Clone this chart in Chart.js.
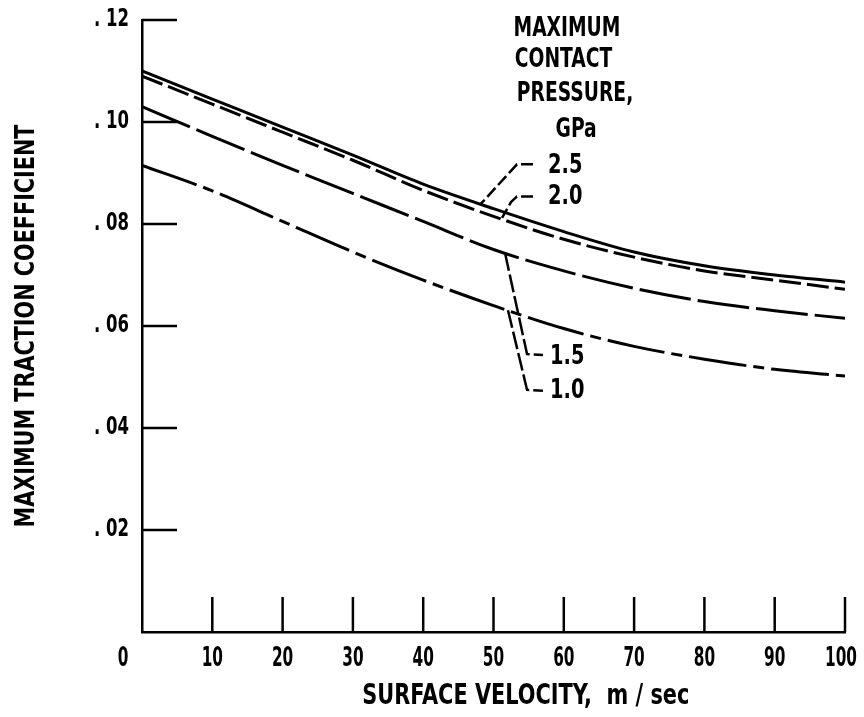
<!DOCTYPE html>
<html><head><meta charset="utf-8">
<script src="https://cdn.jsdelivr.net/npm/chart.js@4/dist/chart.umd.min.js"></script>
<style>html,body{margin:0;padding:0;background:#fff}</style>
</head><body>
<canvas id="c" width="864" height="717"></canvas>
<script>
// ---- data ----
const velocity = [0, 10, 20, 30, 40, 50, 60, 70, 80, 90, 100];
const p25 = [0.1100, 0.1045, 0.0990, 0.0935, 0.0878, 0.0830, 0.0785, 0.0745, 0.0718, 0.0700, 0.0686];
const p20 = [0.1090, 0.1035, 0.0980, 0.0925, 0.0866, 0.0815, 0.0770, 0.0735, 0.0708, 0.0690, 0.0672];
const p15 = [0.1030, 0.0972, 0.0915, 0.0860, 0.0805, 0.0750, 0.0708, 0.0674, 0.0648, 0.0630, 0.0615];
const p10 = [0.0915, 0.0865, 0.0805, 0.0745, 0.0690, 0.0640, 0.0595, 0.0560, 0.0535, 0.0515, 0.0502];
const seriesLabels = ['2.5', '2.0', '1.5', '1.0'];
const legendTitle = ['MAXIMUM', 'CONTACT', 'PRESSURE,', 'GPa'];
const xTicks = [0, 10, 20, 30, 40, 50, 60, 70, 80, 90, 100];
const xTickLabels = ['0', '10', '20', '30', '40', '50', '60', '70', '80', '90', '100'];
const yTicks = [0.02, 0.04, 0.06, 0.08, 0.10, 0.12];
const yTickLabels = ['. 02', '. 04', '. 06', '. 08', '. 10', '. 12'];
const xTitle = 'SURFACE VELOCITY,  m / sec';
const yTitle = 'MAXIMUM TRACTION COEFFICIENT';

const FONT = '"DejaVu Sans Condensed", "Liberation Sans Narrow", sans-serif';
const toPts = arr => velocity.map((v, i) => ({x: v, y: arr[i]}));

const decor = {
  id: 'decor',
  afterDraw(chart) {
    const {ctx, chartArea: a, scales: {x, y}} = chart;
    const P = (vx, vy) => [x.getPixelForValue(vx), y.getPixelForValue(vy)];
    ctx.save();
    ctx.strokeStyle = '#000';
    ctx.fillStyle = '#000';
    const widthOf = (t, size) => { ctx.font = 'bold ' + size + 'px ' + FONT; return ctx.measureText(t).width; };
    // horizontal narrowing factors so the real text matches the condensed type of the original
    const SX = 327 / widthOf(xTitle, 29);
    const SXY = 403 / widthOf(yTitle, 26);
    const SXT = 32 / widthOf('100', 27);
    const SXYT = 35 / widthOf('. 10', 24);
    const txt = (t, px, py, size, align, sx, rot) => {
      ctx.save();
      ctx.font = 'bold ' + size + 'px ' + FONT;
      ctx.textAlign = align; ctx.textBaseline = 'middle';
      ctx.translate(px, py);
      if (rot) ctx.rotate(rot);
      ctx.scale(sx, 1);
      ctx.fillText(t, 0, 0);
      ctx.restore();
    };
    // inward tick marks
    ctx.lineWidth = 2.5;
    yTicks.forEach(v => {
      const py = y.getPixelForValue(v);
      ctx.beginPath(); ctx.moveTo(a.left, py); ctx.lineTo(a.left + 35, py); ctx.stroke();
    });
    xTicks.slice(1).forEach(v => {
      const px = x.getPixelForValue(v);
      ctx.beginPath(); ctx.moveTo(px, a.bottom); ctx.lineTo(px, a.bottom - 35); ctx.stroke();
    });
    // tick labels
    yTicks.forEach((v, i) => txt(yTickLabels[i], a.left - 13, y.getPixelForValue(v), 24, 'right', SXYT));
    xTicks.forEach((v, i) => txt(xTickLabels[i], x.getPixelForValue(v) - (i === 0 ? 19 : (i === xTicks.length - 1 ? 4 : 0)), a.bottom + 27, 27, 'center', SXT));
    // axis titles
    txt(xTitle, x.getPixelForValue(54.6), a.bottom + 64, 29, 'center', SX);
    txt(yTitle, 27, (a.top + a.bottom) / 2, 26, 'center', SXY, -Math.PI / 2);
    // legend title
    const tpos = [[60.45, 0.1182], [59.95, 0.1122], [61.6, 0.1055], [61.75, 0.0983]];
    legendTitle.forEach((t, i) => { const [px, py] = P(...tpos[i]); txt(t, px, py, 26, 'center', SX); });
    // series labels
    const lpos = [[57.75, 0.0913], [57.75, 0.0852], [58.04, 0.0539], [58.04, 0.0473]];
    seriesLabels.forEach((t, i) => { const [px, py] = P(...lpos[i]); txt(t, px, py, 27, 'left', SX); });
    // leader lines
    ctx.lineWidth = 2.5;
    const leaders = [
      {pts: [[55.62, 0.0917], [53.34, 0.0917], [48.1, 0.0838]], dash: [12, 4]},
      {pts: [[55.62, 0.0854], [53.34, 0.0854], [52.49, 0.0843], [51.21, 0.0812]], dash: [12, 4]},
      {pts: [[51.64, 0.0743], [54.77, 0.0545], [57.04, 0.0543]], dash: [18, 4]},
      {pts: [[52.06, 0.0631], [54.77, 0.0475], [57.04, 0.0473]], dash: [18, 4]}
    ];
    leaders.forEach(l => {
      ctx.setLineDash(l.dash);
      ctx.beginPath();
      l.pts.forEach((p, i) => { const [px, py] = P(...p); i ? ctx.lineTo(px, py) : ctx.moveTo(px, py); });
      ctx.stroke();
    });
    ctx.restore();
  }
};

const ds = (label, arr, dash) => ({
  label, data: toPts(arr), borderColor: '#000', borderWidth: 3, borderDash: dash,
  pointRadius: 0, cubicInterpolationMode: 'monotone', fill: false, borderCapStyle: 'butt'
});

new Chart(document.getElementById('c'), {
  type: 'line',
  data: {
    datasets: [
      ds(seriesLabels[0], p25, []),
      ds(seriesLabels[1], p20, [22, 6]),
      ds(seriesLabels[2], p15, [52, 7]),
      ds(seriesLabels[3], p10, [58, 7, 11, 7])
    ]
  },
  options: {
    responsive: false, animation: false, devicePixelRatio: 1,
    layout: {padding: {top: 20, right: 19, left: 0, bottom: 0}},
    plugins: {legend: {display: false}, tooltip: {enabled: false}},
    scales: {
      x: {
        type: 'linear', min: 0, max: 100,
        afterFit: s => { s.height = 85; s.paddingLeft = 0; s.paddingRight = 0; },
        afterBuildTicks: s => { s.ticks = xTicks.map(v => ({value: v})); },
        ticks: {display: false},
        grid: {drawOnChartArea: false, drawTicks: false},
        border: {display: true, color: '#000', width: 2.5}
      },
      y: {
        type: 'linear', min: 0, max: 0.12,
        afterFit: s => { s.width = 142; s.paddingTop = 0; s.paddingBottom = 0; },
        afterBuildTicks: s => { s.ticks = [0].concat(yTicks).map(v => ({value: v})); },
        ticks: {display: false},
        grid: {drawOnChartArea: false, drawTicks: false},
        border: {display: true, color: '#000', width: 2.5}
      }
    }
  },
  plugins: [decor]
});
</script>
</body></html>
